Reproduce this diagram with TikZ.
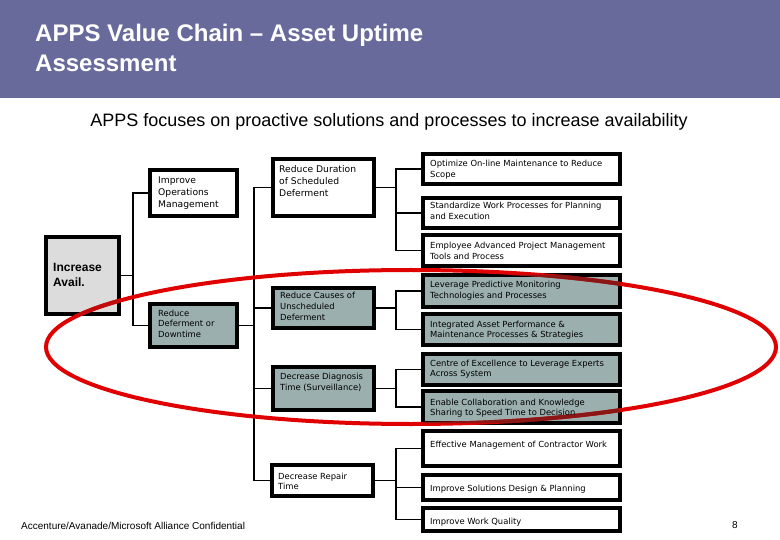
\documentclass[tikz,border=0pt]{standalone}
\usepackage{fontspec}
\setmainfont{Liberation Sans}
\newfontfamily\boxfont{DejaVu Sans}
\definecolor{hdr}{HTML}{676A9A}
\definecolor{gbox}{HTML}{9BAFAF}
\definecolor{lbox}{HTML}{DCDCDC}
\definecolor{ringred}{HTML}{E00000}
\definecolor{ringdark}{HTML}{8A1616}
\definecolor{ringmid}{HTML}{C10A0A}
\newcommand\mlines[1]{\begin{tabular}[t]{@{}l@{}}#1\end{tabular}}
\begin{document}
\begin{tikzpicture}[x=1bp,y=-1bp,
  box/.style={draw=black, line width=4bp, rectangle, inner sep=0pt},
  wbox/.style={box, fill=white},
  gbx/.style={box, fill=gbox},
  conn/.style={draw=black, line width=1.3bp},
  ring/.style={line width=4bp},
  txs/.style={anchor=base west, inner sep=0pt, font=\boxfont\fontsize{8.4bp}{10.7bp}\selectfont},
  txm/.style={anchor=base west, inner sep=0pt, font=\boxfont\fontsize{9.2bp}{12bp}\selectfont},
]
\path[use as bounding box, fill=white] (0,0) rectangle (780,540);
% header
\fill[hdr] (0,0) rectangle (780,98);
\node[anchor=base west, inner sep=0pt, text=white, font=\bfseries\fontsize{24bp}{30bp}\selectfont] (title) at (35,41.7) {\mlines{APPS Value Chain -- Asset Uptime\\Assessment}};
\node[anchor=base, inner sep=0pt, font=\fontsize{18bp}{22bp}\selectfont] (sub) at (389,126.5) {APPS focuses on proactive solutions and processes to increase availability};

% left column
\node[box, fill=lbox, minimum width=73bp, minimum height=77bp] (inc) at (82.5,275.5) {};
\node[wbox, minimum width=87bp, minimum height=46bp] (ops) at (193.5,193) {};
\node[gbx, minimum width=87bp, minimum height=43bp] (def) at (193.5,325.5) {};
% middle column
\node[wbox, minimum width=101bp, minimum height=57bp] (dur) at (323.5,187.5) {};
\node[gbx, minimum width=101bp, minimum height=40bp] (cau) at (323.5,308) {};
\node[gbx, minimum width=101bp, minimum height=43bp] (dia) at (323.5,388.5) {};
\node[wbox, minimum width=101bp, minimum height=31bp] (rep) at (322.5,480.5) {};
% right column
\node[wbox, minimum width=197bp, minimum height=30bp] (r1) at (521.5,169) {};
\node[wbox, minimum width=197bp, minimum height=30bp] (r2) at (521.5,213) {};
\node[wbox, minimum width=197bp, minimum height=31bp] (r3) at (521.5,250.5) {};
\node[gbx, minimum width=197bp, minimum height=32bp] (r4) at (521.5,291) {};
\node[gbx, minimum width=197bp, minimum height=31bp] (r5) at (521.5,329.5) {};
\node[gbx, minimum width=197bp, minimum height=31bp] (r6) at (521.5,369.5) {};
\node[gbx, minimum width=197bp, minimum height=32bp] (r7) at (521.5,407) {};
\node[wbox, minimum width=197bp, minimum height=35bp] (r8) at (521.5,448.5) {};
\node[wbox, minimum width=197bp, minimum height=25bp] (r9) at (521.5,487.5) {};
\node[wbox, minimum width=197bp, minimum height=23bp] (r10) at (521.5,519.5) {};

% bus coordinates
\coordinate (b1) at (133,0);
\coordinate (b2) at (254,0);
\coordinate (b3) at (396,0);

% connectors
\draw[conn] (inc.east) -- (inc.east -| b1);
\draw[conn] (ops.west) -- (ops.west -| b1) -- (def.west -| b1) -- (def.west);
\draw[conn] (def.east) -- (def.east -| b2);
\draw[conn] (dur.west) -- (dur.west -| b2) -- (rep.west -| b2) -- (rep.west);
\draw[conn] (cau.west) -- (cau.west -| b2);
\draw[conn] (dia.west) -- (dia.west -| b2);

\draw[conn] (dur.east) -- (dur.east -| b3);
\draw[conn] (r1.west) -- (r1.west -| b3) -- (r3.west -| b3) -- (r3.west);
\draw[conn] (r2.west) -- (r2.west -| b3);
\draw[conn] (cau.east) -- (cau.east -| b3);
\draw[conn] (r4.west) -- (r4.west -| b3) -- (r5.west -| b3) -- (r5.west);
\draw[conn] (dia.east) -- (dia.east -| b3);
\draw[conn] (r6.west) -- (r6.west -| b3) -- (r7.west -| b3) -- (r7.west);
\draw[conn] (rep.east) -- (rep.east -| b3);
\draw[conn] (r8.west) -- (r8.west -| b3) -- (r10.west -| b3) -- (r10.west);
\draw[conn] (r9.west) -- (r9.west -| b3);

% red ring (drawn over the boxes, darker where it crosses the grey fills)
\draw[ring, ringred] (411,347) ellipse [x radius=365bp, y radius=77bp];
\begin{scope}
  \clip ([shift={(2,2)}]def.north west) rectangle ([shift={(-2,-2)}]def.south east)
        ([shift={(2,2)}]cau.north west) rectangle ([shift={(-2,-2)}]cau.south east)
        ([shift={(2,2)}]dia.north west) rectangle ([shift={(-2,-2)}]dia.south east)
        ([shift={(2,2)}]r4.north west) rectangle ([shift={(-2,-2)}]r4.south east)
        ([shift={(2,2)}]r5.north west) rectangle ([shift={(-2,-2)}]r5.south east)
        ([shift={(2,2)}]r6.north west) rectangle ([shift={(-2,-2)}]r6.south east)
        ([shift={(2,2)}]r7.north west) rectangle ([shift={(-2,-2)}]r7.south east);
  \draw[ring, ringdark] (411,347) ellipse [x radius=365bp, y radius=77bp];
\end{scope}
\begin{scope}
  \clip ([shift={(2,2)}]inc.north west) rectangle ([shift={(-2,-2)}]inc.south east);
  \draw[ring, ringmid] (411,347) ellipse [x radius=365bp, y radius=77bp];
\end{scope}

% texts
\node[anchor=base west, inner sep=0pt, font=\bfseries\fontsize{12bp}{15bp}\selectfont] (tinc) at (53,272) {\mlines{Increase\\Avail.}};
\node[txm] (tops) at (158,183.3) {\mlines{Improve\\Operations\\Management}};
\node[txs] (tdef) at (158,316) {\mlines{Reduce\\Deferment or\\Downtime}};
\node[txm] (tdur) at (279,172.3) {\mlines{Reduce Duration\\of Scheduled\\Deferment}};
\node[txs] (tcau) at (280,299) {\mlines{Reduce Causes of\\Unscheduled\\Deferment}};
\node[txs] (tdia) at (280,379.5) {\mlines{Decrease Diagnosis\\Time (Surveillance)}};
\node[txs] (trep) at (278,479) {\mlines{Decrease Repair\\Time}};

\node[txs] (t1) at (430,167) {\mlines{Optimize On-line Maintenance to Reduce\\Scope}};
\node[txs] (t2) at (430,209) {\mlines{Standardize Work Processes for Planning\\and Execution}};
\node[txs] (t3) at (430,249) {\mlines{Employee Advanced Project Management\\Tools and Process}};
\node[txs] (t4) at (430,288) {\mlines{Leverage Predictive Monitoring\\Technologies and Processes}};
\node[txs] (t5) at (430,327) {\mlines{Integrated Asset Performance \&\\Maintenance Processes \& Strategies}};
\node[txs] (t6) at (430,366) {\mlines{Centre of Excellence to Leverage Experts\\Across System}};
\node[txs] (t7) at (430,405) {\mlines{Enable Collaboration and Knowledge\\Sharing to Speed Time to Decision}};
\node[txs] (t8) at (430,447) {Effective Management of Contractor Work};
\node[txs] (t9) at (430,491) {Improve Solutions Design \& Planning};
\node[txs] (t10) at (430,524.5) {Improve Work Quality};

% footer
\node[anchor=base west, inner sep=0pt, font=\fontsize{10bp}{12bp}\selectfont] (foot) at (21,529) {Accenture/Avanade/Microsoft Alliance Confidential};
\node[anchor=base west, inner sep=0pt, font=\fontsize{10bp}{12bp}\selectfont] (pg) at (732,528) {8};
\end{tikzpicture}
\end{document}
